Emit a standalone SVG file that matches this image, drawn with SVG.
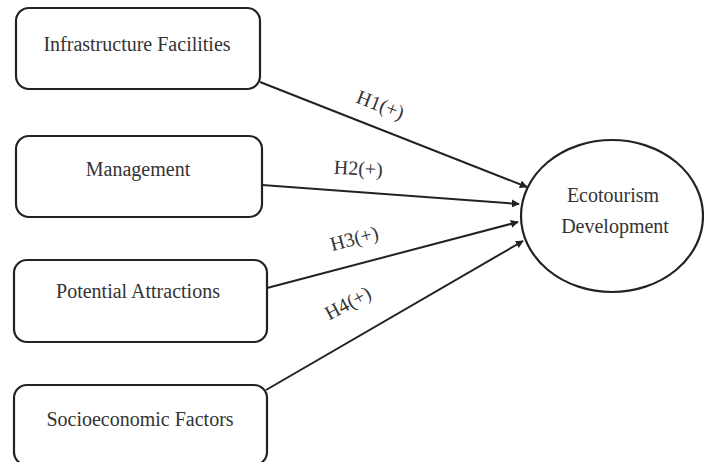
<svg xmlns="http://www.w3.org/2000/svg" width="704" height="462" viewBox="0 0 704 462">
<style>
.box{fill:#fff;stroke:#222;stroke-width:2.2}
.t{font-family:"Liberation Serif","Times New Roman",serif;font-size:20px;fill:#333;text-anchor:middle}
.c{stroke:#222;stroke-width:2;fill:none;marker-end:url(#ah)}
</style>
<defs>
<marker id="ah" viewBox="0 0 10 10" refX="9" refY="5" markerWidth="8" markerHeight="8" markerUnits="userSpaceOnUse" orient="auto">
<path d="M0,0 L10,5 L0,10 z" fill="#222"/>
</marker>
</defs>
<rect width="704" height="462" fill="#fff"/>
<g id="connectors">
<line class="c" x1="260" y1="82" x2="527" y2="187"/>
<line class="c" x1="262" y1="185" x2="519" y2="204"/>
<line class="c" x1="267" y1="288" x2="518" y2="222"/>
<line class="c" x1="266" y1="390" x2="523" y2="241"/>
<text class="t" transform="translate(378,111) rotate(21)">H1(+)</text>
<text class="t" transform="translate(358,175) rotate(3)">H2(+)</text>
<text class="t" transform="translate(356,245) rotate(-15)">H3(+)</text>
<text class="t" transform="translate(351,309) rotate(-28)">H4(+)</text>
</g>
<g id="infrastructure">
<rect class="box" x="16" y="8" width="244" height="81" rx="13"/>
<text class="t" x="137" y="51">Infrastructure Facilities</text>
</g>
<g id="management">
<rect class="box" x="16" y="136" width="246" height="81" rx="13"/>
<text class="t" x="138" y="176">Management</text>
</g>
<g id="potential">
<rect class="box" x="14" y="260" width="253" height="82" rx="13"/>
<text class="t" x="138" y="298">Potential Attractions</text>
</g>
<g id="socioeconomic">
<rect class="box" x="14" y="385" width="253" height="80" rx="13"/>
<text class="t" x="140" y="426">Socioeconomic Factors</text>
</g>
<g id="ecotourism">
<ellipse class="box" cx="612" cy="216" rx="91" ry="76"/>
<text class="t" x="613" y="202">Ecotourism</text>
<text class="t" x="615" y="233">Development</text>
</g>
</svg>
